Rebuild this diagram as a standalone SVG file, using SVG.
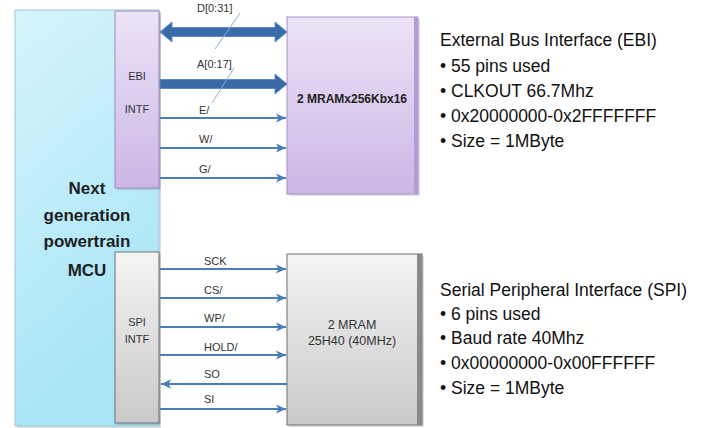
<svg xmlns="http://www.w3.org/2000/svg" width="712" height="428" viewBox="0 0 712 428">
<defs>
<linearGradient id="gMcu" x1="0" y1="0" x2="0.3" y2="1"><stop offset="0" stop-color="#d6f4fc"/><stop offset="1" stop-color="#a6e4f6"/></linearGradient>
<linearGradient id="gPurp" x1="0" y1="0" x2="0" y2="1"><stop offset="0" stop-color="#ece3f6"/><stop offset="1" stop-color="#cbb6e6"/></linearGradient>
<linearGradient id="gGray" x1="0" y1="0" x2="0" y2="1"><stop offset="0" stop-color="#f4f4f4"/><stop offset="1" stop-color="#c9c9c9"/></linearGradient>
<marker id="ah" markerUnits="userSpaceOnUse" markerWidth="11" markerHeight="11" refX="10" refY="5" orient="auto">
<path d="M0,0.5 L10,5 L0,9.5 L2.5,5 z" fill="#4a7ebb"/>
</marker>
<style>
.lbl{font-family:"Liberation Sans",Arial,sans-serif;font-size:11px;fill:#333}
.mcu{font-family:"Liberation Sans",Arial,sans-serif;font-size:17px;font-weight:bold;fill:#1e1e1e}
.desc{font-family:"Liberation Sans",Arial,sans-serif;font-size:17.5px;fill:#111}
.sig{fill:none;stroke:#4a7ebb;stroke-width:2;marker-end:url(#ah)}
.bus{fill:#3a6aa8;stroke:#5a8bc8;stroke-width:1}
.slash{stroke:#8fb0d4;stroke-width:1;fill:none}
.shadow{fill:#000;opacity:0.12}
</style>
</defs>
<rect width="712" height="428" fill="#ffffff"/>

<g id="mcu">
<rect class="shadow" x="17" y="12" width="144" height="416"/>
<rect x="15" y="10" width="144" height="416" fill="url(#gMcu)" stroke="#a3c6d2" stroke-width="1"/>
<text class="mcu" x="87" y="194" text-anchor="middle">Next</text>
<text class="mcu" x="87" y="221" text-anchor="middle">generation</text>
<text class="mcu" x="87" y="247" text-anchor="middle">powertrain</text>
<text class="mcu" x="87" y="276" text-anchor="middle">MCU</text>
</g>

<g id="ebi-intf">
<rect class="shadow" x="117" y="13" width="44" height="177"/>
<rect x="115" y="11" width="44" height="177" fill="url(#gPurp)" stroke="#9f88bd" stroke-width="1"/>
<text class="lbl" x="137" y="80" text-anchor="middle">EBI</text>
<text class="lbl" x="137" y="113" text-anchor="middle">INTF</text>
</g>

<g id="spi-intf">
<rect class="shadow" x="117" y="254" width="44" height="171"/>
<rect x="115" y="252" width="44" height="171" fill="url(#gGray)" stroke="#6f6f6f" stroke-width="1"/>
<text class="lbl" x="137" y="326" text-anchor="middle">SPI</text>
<text class="lbl" x="137" y="343" text-anchor="middle">INTF</text>
</g>

<g id="mram-ebi">
<rect class="shadow" x="289" y="19" width="131" height="177"/>
<rect x="287" y="17" width="131" height="177" fill="url(#gPurp)" stroke="#a792c4" stroke-width="1"/>
<rect x="414" y="17" width="4" height="177" fill="#b39bd6"/>
<text x="352" y="103" text-anchor="middle" style="font-family:'Liberation Sans',Arial,sans-serif;font-size:12px;font-weight:bold;fill:#222">2 MRAMx256Kbx16</text>
</g>

<g id="mram-spi">
<rect class="shadow" x="289" y="256" width="135" height="171"/>
<rect x="287" y="254" width="135" height="171" fill="url(#gGray)" stroke="#6f6f6f" stroke-width="1"/>
<rect x="417" y="254" width="5" height="171" fill="#8a8a8a"/>
<text x="352" y="329" text-anchor="middle" style="font-family:'Liberation Sans',Arial,sans-serif;font-size:12.5px;fill:#333">2 MRAM</text>
<text x="352" y="345" text-anchor="middle" style="font-family:'Liberation Sans',Arial,sans-serif;font-size:12.5px;fill:#333">25H40 (40MHz)</text>
</g>

<g id="connectors">
<polygon class="bus" points="160,32 172,22 172,27.5 275,27.5 275,22 287,32 275,42 275,36.5 172,36.5 172,42"/>
<polygon class="bus" points="160,79.5 275,79.5 275,74 287,84 275,94 275,88.5 160,88.5"/>
<line class="slash" x1="240" y1="13" x2="215" y2="49"/>
<line class="slash" x1="234" y1="68" x2="212" y2="103"/>
<line class="sig" x1="160" y1="118" x2="286" y2="118"/>
<line class="sig" x1="160" y1="148" x2="286" y2="148"/>
<line class="sig" x1="160" y1="178" x2="286" y2="178"/>
<line class="sig" x1="160" y1="269" x2="286" y2="269"/>
<line class="sig" x1="160" y1="298" x2="286" y2="298"/>
<line class="sig" x1="160" y1="327" x2="286" y2="327"/>
<line class="sig" x1="160" y1="355" x2="286" y2="355"/>
<line class="sig" x1="287" y1="384" x2="161" y2="384"/>
<line class="sig" x1="160" y1="409" x2="286" y2="409"/>
<text class="lbl" x="197" y="12">D[0:31]</text>
<text class="lbl" x="197" y="68">A[0:17]</text>
<text class="lbl" x="199" y="114">E/</text>
<text class="lbl" x="199" y="143">W/</text>
<text class="lbl" x="199" y="173">G/</text>
<text class="lbl" x="204" y="265">SCK</text>
<text class="lbl" x="204" y="294">CS/</text>
<text class="lbl" x="204" y="322">WP/</text>
<text class="lbl" x="204" y="351">HOLD/</text>
<text class="lbl" x="204" y="378">SO</text>
<text class="lbl" x="204" y="403">SI</text>
</g>

<g id="ebi-desc">
<text class="desc" x="440" y="46">External Bus Interface (EBI)</text>
<text class="desc" x="440" y="72">• 55 pins used</text>
<text class="desc" x="440" y="97">• CLKOUT 66.7Mhz</text>
<text class="desc" x="440" y="122">• 0x20000000-0x2FFFFFFF</text>
<text class="desc" x="440" y="147">• Size = 1MByte</text>
</g>

<g id="spi-desc">
<text class="desc" x="440" y="296">Serial Peripheral Interface (SPI)</text>
<text class="desc" x="440" y="320">• 6 pins used</text>
<text class="desc" x="440" y="344">• Baud rate 40Mhz</text>
<text class="desc" x="440" y="369">• 0x00000000-0x00FFFFFF</text>
<text class="desc" x="440" y="394">• Size = 1MByte</text>
</g>
</svg>
